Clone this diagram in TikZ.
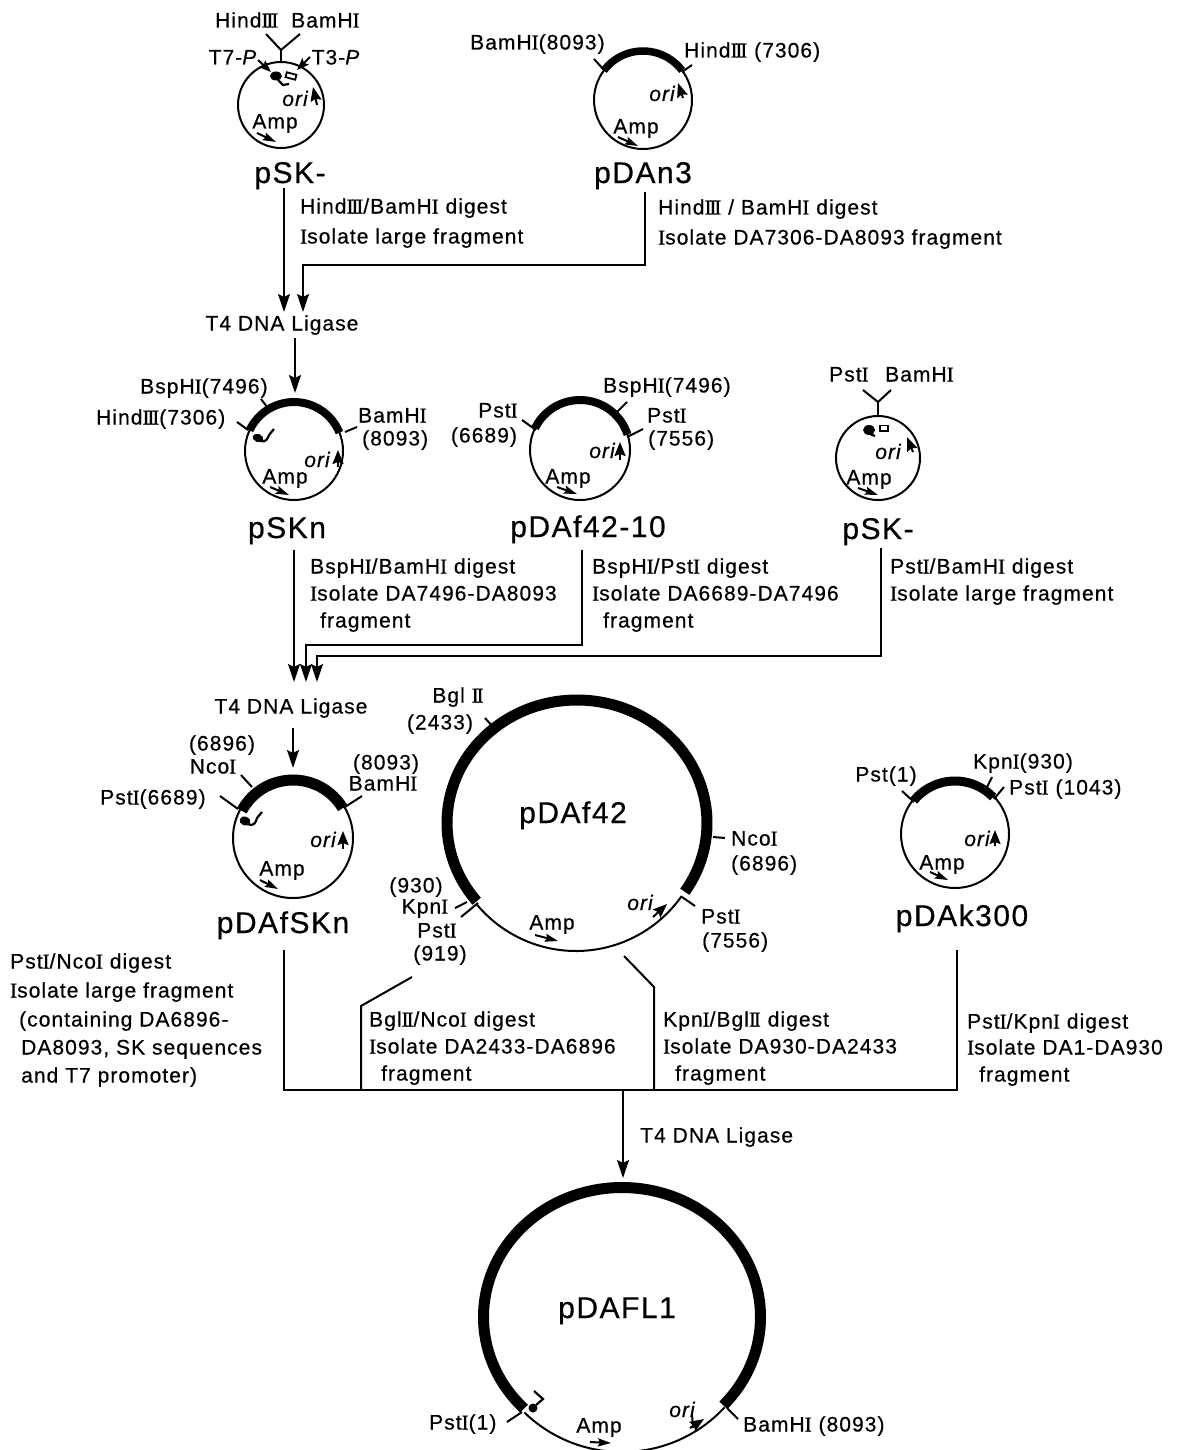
\documentclass[tikz,border=0pt]{standalone}
\usepackage{fontspec}
\setmainfont[LetterSpace=5,FakeBold=0.5]{Liberation Sans}
\newfontfamily\romfont[LetterSpace=5,FakeBold=0.6]{Liberation Serif}
\usetikzlibrary{arrows.meta}
\newcommand\bI{{\romfont I}}
\newcommand\rII{{\romfont\addfontfeature{LetterSpace=-10}II}}
\newcommand\rIII{{\romfont\addfontfeature{LetterSpace=-10}III}}
\newcommand\plarc[6]{\draw[line width=#6pt] (#1) ++(#4:#2pt and #3pt) arc[start angle=#4,end angle=#5,x radius=#2pt,y radius=#3pt];}
\tikzset{
  txt/.style={font=\fontsize{21}{21}\selectfont,inner sep=0pt,text height=15pt,text depth=0pt},
  lft/.style={txt,anchor=west},
  plname/.style={font=\fontsize{30}{30}\selectfont,inner sep=0pt,text height=22pt,text depth=0pt},
  oritxt/.style={font=\fontsize{21}{21}\selectfont\itshape,inner sep=0pt,text height=10pt,text depth=0pt},
  plasmid/.style={circle,draw,line width=2pt,inner sep=0pt,minimum size=#1},
  tick/.style={line width=2pt},
  conn/.style={line width=2pt},
  flow/.style={line width=2pt,-{Stealth[length=18pt,width=12pt,inset=3pt]}},
  amparrow/.style={line width=2pt,-{Stealth[length=13pt,width=8pt,inset=2pt]}},
  oriarrow/.style={line width=2pt,-{Stealth[length=14pt,width=11pt,inset=2pt]}},
  squig/.style={line width=2.2pt},
}
\begin{document}
\begin{tikzpicture}[x=1pt,y=-1pt]
\useasboundingbox (0,0) rectangle (1177,1450);
\fill[white] (0,0) rectangle (1177,1450);

%% pSK- (top)
\node[plasmid=86pt] (c1) at (281,105) {};
\draw[tick] (281,62) -- (281,50) coordinate (y1);
\draw[tick] (266,34) -- (y1) -- (300,34);
\node[lft] (t1a) at (215,20) {Hind\rIII};
\node[lft] (t1b) at (291,20) {BamH\bI};
\node[txt] (t1c) at (233,57) {T7-\textit{P}};
\node[txt] (t1d) at (336,57) {T3-\textit{P}};
\draw[line width=2pt,-{Stealth[length=12pt,width=9pt,inset=2pt]}] (258,60) -- (271,72);
\draw[line width=2pt,-{Stealth[length=12pt,width=9pt,inset=2pt]}] (310,57) -- (297,70);
\fill (276,76) ellipse[x radius=6pt,y radius=4.5pt];
\draw[squig] (278,80) -- (283,85) -- (289,84);
\draw[line width=1.8pt,rotate around={-15:(291,76)}] (286,73.5) rectangle (296,78.5);
\node[oritxt] (o1) at (295,101) {ori};
\draw[oriarrow] (317,105) -- (313,87);
\node[txt] (a1) at (275,121) {Amp};
\draw[amparrow] (257,133) -- (276,142);
\node[plname] (n1) at (290,172) {pSK-};

%% pDAn3
\node[plasmid=98pt] (c2) at (643,100) {};
\plarc{c2.center}{49}{49}{143}{37}{7.5}
\draw[tick] (594,59) -- (604,70);
\draw[tick] (692,65) -- (682,72);
\node[lft] (t2a) at (470,42) {BamH\bI(8093)};
\node[lft] (t2b) at (684,50) {Hind\rIII{} (7306)};
\node[oritxt] (o2) at (662,96) {ori};
\draw[oriarrow] (683,98) -- (678,83);
\node[txt] (a2) at (636,126) {Amp};
\draw[amparrow] (618,137) -- (638,146);
\node[plname] (n2) at (643,172) {pDAn3};

%% digests row 1
\node[lft] (d1a) at (300,206) {Hind\rIII/BamH\bI{} digest};
\node[lft] (d1b) at (300,236) {\bI solate large fragment};
\node[lft] (d2a) at (658,207) {Hind\rIII{} / BamH\bI{} digest};
\node[lft] (d2b) at (658,237) {\bI solate DA7306-DA8093 fragment};

\node[txt] (lig1) at (282,323) {T4 DNA Ligase};
\coordinate (f1s) at (284,188);
\coordinate (f1e) at (284,312);
\coordinate (f2s) at (645,192);
\coordinate (f2a) at (645,265);
\coordinate (f2b) at (303,265);
\coordinate (f2e) at (303,312);
\draw[flow] (f1s) -- (f1e);
\draw[flow] (f2s) -- (f2a) -- (f2b) -- (f2e);
\coordinate (f3s) at (295,338);
\coordinate (f3e) at (295,393);
\draw[flow] (f3s) -- (f3e);

%% pSKn
\node[plasmid=98pt] (c3) at (294,451) {};
\plarc{c3.center}{49}{49}{155}{22}{8}
\draw[tick] (237,422) -- (248,430);
\draw[tick] (261,399) -- (267,407);
\draw[tick] (357,427) -- (345,432);
\node[lft] (t3a) at (140,386) {BspH\bI(7496)};
\node[lft] (t3b) at (96,417) {Hind\rIII(7306)};
\node[lft] (t3c) at (358,415) {BamH\bI};
\node[lft] (t3d) at (362,438) {(8093)};
\fill[rotate around={-20:(258,438)}] (258,438) ellipse[x radius=5.5pt,y radius=4pt];
\draw[squig] (260,441) .. controls (266,443) and (268,438) .. (269,435) -- (274,429);
\node[oritxt] (o3) at (317,462) {ori};
\draw[oriarrow] (338,467) -- (338,450);
\node[txt] (a3) at (285,476) {Amp};
\draw[amparrow] (270,487) -- (289,495);
\node[plname] (n3) at (287,527) {pSKn};

%% pDAf42-10
\node[plasmid=100pt] (c4) at (580,450) {};
\plarc{c4.center}{50}{50}{154}{18}{8}
\draw[tick] (522,420) -- (536,430);
\draw[tick] (627,402) -- (617,412);
\draw[tick] (643,429) -- (627,437);
\node[txt] (t4a) at (498,410) {Pst\bI};
\node[txt] (t4b) at (484,435) {(6689)};
\node[lft] (t4c) at (603,385) {BspH\bI(7496)};
\node[lft] (t4d) at (647,415) {Pst\bI};
\node[lft] (t4e) at (648,438) {(7556)};
\node[oritxt] (o4) at (602,453) {ori};
\draw[oriarrow] (620,460) -- (620,442);
\node[txt] (a4) at (568,476) {Amp};
\draw[amparrow] (557,487) -- (577,494);
\node[plname] (n4) at (588,526) {pDAf42-10};

%% pSK- (second)
\node[plasmid=84pt] (c5) at (878,458) {};
\draw[tick] (878,416) -- (878,402) coordinate (y5);
\draw[tick] (863,390) -- (y5) -- (891,390);
\node[lft] (t5a) at (829,374) {Pst\bI};
\node[lft] (t5b) at (885,374) {BamH\bI};
\fill (869,430) ellipse[x radius=6pt,y radius=5pt];
\draw[squig] (870,434) -- (875,436);
\draw[line width=1.8pt] (880,425.5) rectangle (888,431);
\node[oritxt] (o5) at (888,454) {ori};
\draw[oriarrow] (913,452) -- (907,437);
\node[txt] (a5) at (869,477) {Amp};
\draw[amparrow] (858,488) -- (878,495);
\node[plname] (n5) at (878,528) {pSK-};

%% digests row 2
\node[lft] (d3a) at (310,566) {BspH\bI/BamH\bI{} digest};
\node[lft] (d3b) at (310,593) {\bI solate DA7496-DA8093};
\node[lft] (d3c) at (320,620) {fragment};
\node[lft] (d4a) at (592,566) {BspH\bI/Pst\bI{} digest};
\node[lft] (d4b) at (592,593) {\bI solate DA6689-DA7496};
\node[lft] (d4c) at (603,620) {fragment};
\node[lft] (d5a) at (890,566) {Pst\bI/BamH\bI{} digest};
\node[lft] (d5b) at (890,593) {\bI solate large fragment};

\coordinate (f4s) at (294,550);
\coordinate (f4e) at (294,682);
\coordinate (f5s) at (582,550);
\coordinate (f5a) at (582,645);
\coordinate (f5b) at (306,645);
\coordinate (f5e) at (306,682);
\coordinate (f6s) at (881,548);
\coordinate (f6a) at (881,656);
\coordinate (f6b) at (317,656);
\coordinate (f6e) at (317,682);
\draw[flow] (f4s) -- (f4e);
\draw[flow] (f5s) -- (f5a) -- (f5b) -- (f5e);
\draw[flow] (f6s) -- (f6a) -- (f6b) -- (f6e);
\node[txt] (lig2) at (291,706) {T4 DNA Ligase};
\coordinate (f7s) at (293,728);
\coordinate (f7e) at (293,768);
\draw[flow] (f7s) -- (f7e);

%% pDAfSKn
\node[plasmid=120pt] (c6) at (293,838) {};
\plarc{c6.center}{58}{58}{152}{31}{11}
\draw[tick] (220,796) -- (238,809);
\draw[tick] (241,775) -- (252,787);
\draw[tick] (362,796) -- (345,807);
\node[txt] (t6a) at (222,743) {(6896)};
\node[txt] (t6b) at (213,766) {Nco\bI};
\node[lft] (t6c) at (100,797) {Pst\bI(6689)};
\node[txt] (t6d) at (386,762) {(8093)};
\node[txt] (t6e) at (383,783) {BamH\bI};
\fill[rotate around={-20:(245,821)}] (245,821) ellipse[x radius=5.5pt,y radius=4.5pt];
\draw[squig] (248,824) .. controls (254,827) and (256,822) .. (257,818) -- (262,812);
\node[oritxt] (o6) at (323,842) {ori};
\draw[oriarrow] (343,849) -- (343,831);
\node[txt] (a6) at (282,868) {Amp};
\draw[amparrow] (260,880) -- (278,889);
\node[plname] (n6) at (283,922) {pDAfSKn};

%% pDAf42
\coordinate (c7) at (577,823);
\coordinate (c7b) at (576,822);
\plarc{c7}{130}{123}{219.5}{-34}{11}
\plarc{c7b}{129}{129}{220}{325}{2}
\draw[tick] (485,718) -- (493,727);
\draw[tick] (713,837) -- (725,838);
\draw[tick] (682,897) -- (695,906);
\draw[tick] (455,908) -- (467,902);
\draw[tick] (461,917) -- (478,903);
\node[txt] (t7a) at (458,695) {Bgl \rII};
\node[txt] (t7b) at (440,722) {(2433)};
\node[plname] (n7) at (573,812) {pDAf42};
\node[lft] (t7c) at (731,838) {Nco\bI};
\node[lft] (t7d) at (731,863) {(6896)};
\node[lft] (t7e) at (701,916) {Pst\bI};
\node[lft] (t7f) at (702,940) {(7556)};
\node[txt] (t7g) at (416,885) {(930)};
\node[txt] (t7h) at (425,906) {Kpn\bI};
\node[txt] (t7i) at (437,930) {Pst\bI};
\node[txt] (t7j) at (440,953) {(919)};
\node[oritxt] (o7) at (640,905) {ori};
\draw[oriarrow] (653,917) -- (667,904);
\node[txt] (a7) at (552,922) {Amp};
\draw[amparrow] (535,935) -- (558,941);

%% pDAk300
\node[plasmid=108pt] (c8) at (955,834) {};
\plarc{c8.center}{53}{53}{141}{44}{9}
\draw[tick] (902,791) -- (914,802);
\draw[tick] (992,777) -- (987,787);
\draw[tick] (1004,787) -- (994,799);
\node[txt] (t8a) at (886,774) {Pst(1)};
\node[txt] (t8b) at (1023,761) {Kpn\bI(930)};
\node[lft] (t8c) at (1009,787) {Pst\bI{} (1043)};
\node[oritxt] (o8) at (977,841) {ori};
\draw[oriarrow] (995,846) -- (995,830);
\node[txt] (a8) at (942,862) {Amp};
\draw[amparrow] (930,872) -- (948,880);
\node[plname] (n8) at (962,915) {pDAk300};

%% digests row 3
\node[lft] (d6a) at (10,961) {Pst\bI/Nco\bI{} digest};
\node[lft] (d6b) at (10,990) {\bI solate large fragment};
\node[lft] (d6c) at (19,1019) {(containing DA6896-};
\node[lft] (d6d) at (21,1047) {DA8093, SK sequences};
\node[lft] (d6e) at (21,1075) {and T7 promoter)};
\node[lft] (d7a) at (369,1019) {Bgl\rII/Nco\bI{} digest};
\node[lft] (d7b) at (369,1046) {\bI solate DA2433-DA6896};
\node[lft] (d7c) at (381,1073) {fragment};
\node[lft] (d8a) at (663,1019) {Kpn\bI/Bgl\rII{} digest};
\node[lft] (d8b) at (663,1046) {\bI solate DA930-DA2433};
\node[lft] (d8c) at (675,1073) {fragment};
\node[lft] (d9a) at (967,1021) {Pst\bI/Kpn\bI{} digest};
\node[lft] (d9b) at (967,1047) {\bI solate DA1-DA930};
\node[lft] (d9c) at (979,1074) {fragment};
\node[lft] (lig3) at (640,1135) {T4 DNA Ligase};

%% merge
\coordinate (m1) at (284,950);
\coordinate (m2) at (284,1090);
\coordinate (m3) at (957,1090);
\coordinate (m4) at (957,950);
\coordinate (m5) at (412,977);
\coordinate (m6) at (361,1006);
\coordinate (m7) at (361,1090);
\coordinate (m8) at (624,956);
\coordinate (m9) at (654,987);
\coordinate (m10) at (654,1090);
\coordinate (m11) at (623,1090);
\coordinate (m12) at (623,1178);
\draw[conn] (m1) -- (m2) -- (m3) -- (m4);
\draw[conn] (m5) -- (m6) -- (m7);
\draw[conn] (m8) -- (m9) -- (m10);
\draw[flow] (m11) -- (m12);

%% pDAFL1
\coordinate (c9) at (622,1317);
\plarc{c9}{138.5}{129.5}{225}{-43}{11}
\plarc{c9}{138}{135}{225}{318}{2}
\draw[tick] (507,1422) -- (522,1412);
\draw[tick] (738,1419) -- (727,1408);
\node[plname] (n9) at (617,1307) {pDAFL1};
\node[lft] (t9a) at (429,1422) {Pst\bI(1)};
\node[lft] (t9b) at (743,1424) {BamH\bI{} (8093)};
\node[txt] (a9) at (599,1425) {Amp};
\draw[amparrow] (590,1442) -- (611,1443);
\node[oritxt] (o9) at (682,1412) {ori};
\draw[oriarrow] (690,1428) -- (704,1419);
\draw[line width=2pt] (692,1414) -- (693,1428);
\fill (533,1408) circle[radius=4.5pt];
\draw[squig] (536,1405) -- (543,1399) -- (534,1391);
\end{tikzpicture}
\end{document}
